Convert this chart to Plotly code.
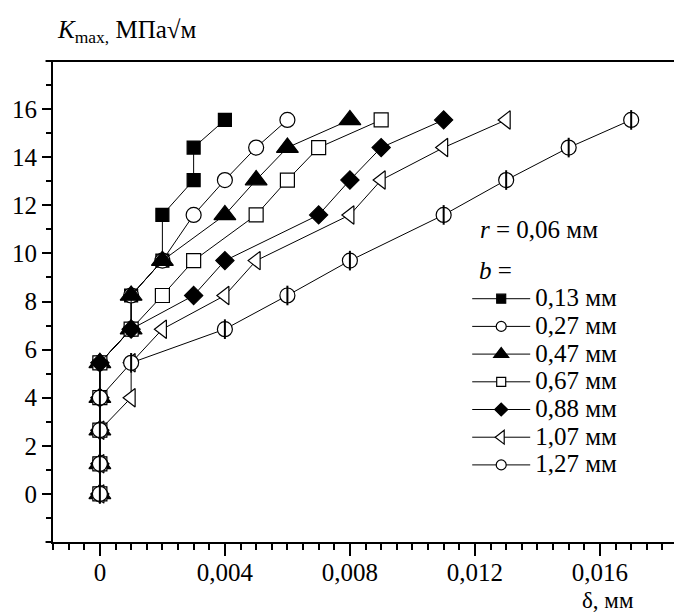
import plotly.graph_objects as go

# Data
K = [0, 1.25, 2.65, 4.0, 5.45, 6.85, 8.25, 9.7, 11.6, 13.05, 14.4, 15.55]
d_013 = [0, 0, 0, 0, 0, 0.001, 0.001, 0.002, 0.002, 0.003, 0.003, 0.004]
d_027 = [0, 0, 0, 0, 0, 0.001, 0.001, 0.002, 0.003, 0.004, 0.005, 0.006]
d_047 = [0, 0, 0, 0, 0, 0.001, 0.001, 0.002, 0.004, 0.005, 0.006, 0.008]
d_067 = [0, 0, 0, 0, 0, 0.001, 0.002, 0.003, 0.005, 0.006, 0.007, 0.009]
d_088 = [0, 0, 0, 0, 0, 0.001, 0.003, 0.004, 0.007, 0.008, 0.009, 0.011]
d_107 = [0, 0, 0, 0.001, 0.001, 0.002, 0.004, 0.005, 0.008, 0.009, 0.011, 0.013]
d_127 = [0, 0, 0, 0, 0.001, 0.004, 0.006, 0.008, 0.011, 0.013, 0.015, 0.017]

labels = ["0,13 мм", "0,27 мм", "0,47 мм", "0,67 мм", "0,88 мм", "1,07 мм", "1,27 мм"]
x_tickvals = [0, 0.004, 0.008, 0.012, 0.016]
x_ticktext = ["0", "0,004", "0,008", "0,012", "0,016"]
y_tickvals = [0, 2, 4, 6, 8, 10, 12, 14, 16]
y_ticktext = ["0", "2", "4", "6", "8", "10", "12", "14", "16"]

FONT = "Liberation Serif"

series = [
    (d_013, "square", "black", 13, 9),
    (d_027, "circle", "white", 15, 10),
    (d_047, "triangle-up", "black", 19, 13),
    (d_067, "square", "white", 14, 9),
    (d_088, "diamond", "black", 14, 10),
    (d_107, "triangle-left", "white", 16, 12),
    (d_127, "circle", "white", 15, 10),
]

fig = go.Figure()
for (xs, sym, fill, size, lsize), lab in zip(series, labels):
    fig.add_trace(go.Scatter(
        x=xs, y=K, mode="lines+markers", name=lab, showlegend=False,
        line=dict(color="black", width=1),
        marker=dict(symbol=sym, size=size, color=fill,
                    line=dict(color="black", width=1.2)),
    ))
# vertical bar inside the last series' circles
fig.add_trace(go.Scatter(
    x=d_127, y=K, mode="markers", showlegend=False,
    marker=dict(symbol="line-ns-open", size=14, color="black",
                line=dict(color="black", width=2)),
))
# legend entries (no data drawn, legend only, smaller symbols)
for (xs, sym, fill, size, lsize), lab in zip(series, labels):
    fig.add_trace(go.Scatter(
        x=[None], y=[None], mode="lines+markers",
        name='<span style="font-size:25px">' + lab + '</span>',
        line=dict(color="black", width=1),
        marker=dict(symbol=sym, size=lsize, color=fill,
                    line=dict(color="black", width=1.2)),
    ))

fig.update_layout(
    width=674, height=613,
    margin=dict(l=53, r=0, t=61, b=71),
    paper_bgcolor="white", plot_bgcolor="white",
    font=dict(family=FONT, size=22, color="black"),
    showlegend=True,
    legend=dict(x=0.667, y=0.545, xanchor="left", yanchor="top",
                bgcolor="rgba(0,0,0,0)", itemwidth=58,
                font=dict(family=FONT, size=19, color="black"),
                tracegroupgap=0),
    xaxis=dict(range=[-0.0015, 0.01837], showgrid=False, zeroline=False,
               showline=True, linecolor="black", linewidth=2,
               tickmode="array", tickvals=x_tickvals, ticktext=x_ticktext,
               ticks="outside", ticklen=12, tickwidth=1.5, tickcolor="black",
               ticklabelstandoff=-5,
               tickfont=dict(family=FONT, size=25, color="black"),
               minor=dict(tickmode="linear", tick0=0, dtick=0.0005,
                          ticks="outside", ticklen=6, tickwidth=1.5,
                          tickcolor="black", showgrid=False)),
    yaxis=dict(range=[-2, 18], showgrid=False, zeroline=False,
               showline=True, linecolor="black", linewidth=2,
               tickmode="array", tickvals=y_tickvals, ticktext=y_ticktext,
               ticksuffix="\u00a0",
               ticks="outside", ticklen=9, tickwidth=1.5, tickcolor="black",
               tickfont=dict(family=FONT, size=25, color="black"),
               minor=dict(tickmode="linear", tick0=0, dtick=1,
                          ticks="outside", ticklen=5, tickwidth=1.5,
                          tickcolor="black", showgrid=False)),
    shapes=[
        dict(type="line", xref="paper", yref="paper", x0=-0.012, x1=1.0,
             y0=1, y1=1, line=dict(color="black", width=2)),
        dict(type="line", xref="paper", yref="paper", x0=-0.012, x1=0.0,
             y0=0, y1=0, line=dict(color="black", width=2)),
    ],
    annotations=[
        dict(text="<i>K</i><sub>max,</sub> МПа√м", xref="paper", yref="paper",
             x=0.004, y=1.062, xanchor="left", yanchor="middle", showarrow=False,
             font=dict(family=FONT, size=25, color="black")),
        dict(text="δ, мм", xref="paper", yref="paper",
             x=0.894, y=-0.1206, xanchor="center", yanchor="middle", showarrow=False,
             font=dict(family=FONT, size=23, color="black")),
        dict(text="<i>r</i> = 0,06 мм", xref="paper", yref="paper",
             x=0.684, y=0.649, xanchor="left", yanchor="middle", showarrow=False,
             font=dict(family=FONT, size=25, color="black")),
        dict(text="<i>b</i> =", xref="paper", yref="paper",
             x=0.683, y=0.565, xanchor="left", yanchor="middle", showarrow=False,
             font=dict(family=FONT, size=25, color="black")),
    ],
)

fig.write_html("out.html")
